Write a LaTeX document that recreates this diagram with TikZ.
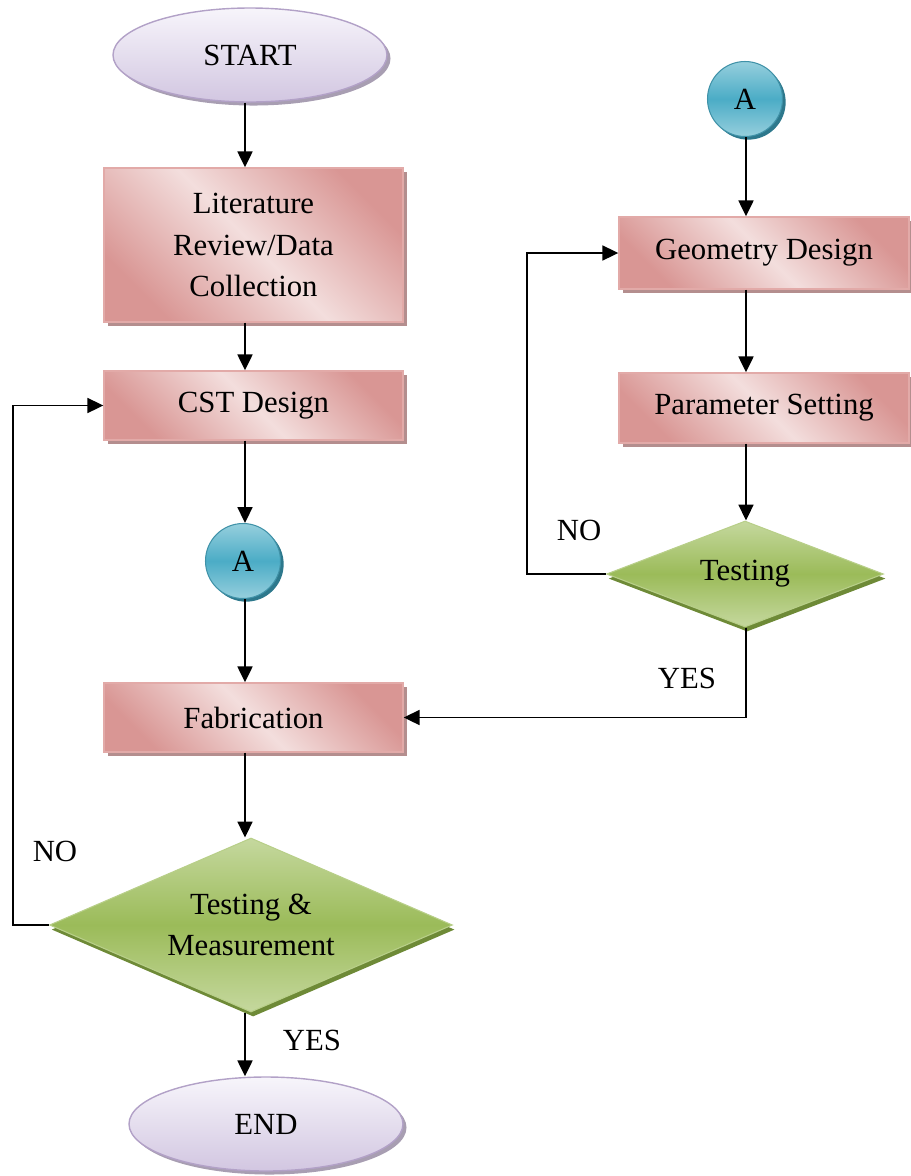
\documentclass[tikz,border=0pt]{standalone}
\usepackage{fontspec}
\setmainfont{Liberation Serif}
\usepackage{xcolor}
\usepackage{tikz}
\usetikzlibrary{shapes.geometric,arrows.meta,shadows}
\definecolor{boxlight}{RGB}{243,222,221}
\definecolor{boxdark}{RGB}{217,150,148}
\definecolor{boxline}{RGB}{226,170,168}
\definecolor{boxshade}{RGB}{180,142,142}
\definecolor{termtop}{RGB}{247,245,251}
\definecolor{termbot}{RGB}{210,198,225}
\definecolor{termline}{RGB}{178,161,199}
\definecolor{termshade}{RGB}{168,158,178}
\definecolor{conlight}{RGB}{150,207,221}
\definecolor{conmid}{RGB}{75,172,198}
\definecolor{conshade}{RGB}{45,120,140}
\definecolor{declight}{RGB}{197,216,158}
\definecolor{decmid}{RGB}{155,187,89}
\definecolor{decshade}{RGB}{110,138,55}

\begin{document}
\begin{tikzpicture}[
  every node/.style={font=\fontsize{17.5}{23.5}\selectfont},
  process/.style={rectangle, draw=boxline, line width=0.8pt,
    top color=boxdark, bottom color=boxdark, middle color=boxlight,
    shading angle=-45, align=center, inner sep=0pt,
    drop shadow={opacity=1, fill=boxshade, shadow xshift=2.2pt, shadow yshift=-2.2pt}},
  terminal/.style={ellipse, draw=termline, line width=0.8pt,
    top color=termtop, bottom color=termbot,
    minimum width=5.48cm, minimum height=1.88cm,
    drop shadow={opacity=1, fill=termshade, shadow xshift=2pt, shadow yshift=-2pt}},
  connector/.style={circle, draw=conmid!85!black, line width=0.6pt,
    top color=conlight, bottom color=conlight, middle color=conmid,
    minimum size=1.5cm, inner sep=0pt,
    drop shadow={opacity=1, fill=conshade, shadow xshift=1.8pt, shadow yshift=-1.8pt}},
  decision/.style={diamond, draw=declight!70!decmid, line width=0.6pt,
    top color=declight, bottom color=declight, middle color=decmid,
    align=center, inner sep=0pt,
    drop shadow={opacity=1, fill=decshade, shadow xshift=1.2pt, shadow yshift=-2.6pt}},
  arr/.style={-{Triangle[length=9pt,width=8.5pt]}, line width=1.1pt},
  backline/.style={arr, line width=0.9pt}
]
  \useasboundingbox (0,0) rectangle (18.22,-23.52);

  % column axes and return lines
  \coordinate (axL) at (4.90,0);
  \coordinate (axR) at (14.92,0);
  \coordinate (fbL) at (0.26,0);
  \coordinate (fbR) at (10.54,0);

  % left column
  \node[terminal] (start) at (5.00,-1.10) {START};
  \node[process, minimum width=5.98cm, minimum height=3.08cm] (lit) at (5.07,-4.90)
    {Literature\\Review/Data\\Collection};
  \node[process, minimum width=5.98cm, minimum height=1.38cm] (cst) at (5.07,-8.11)
    {CST Design};
  \node[connector] (conA1) at (4.86,-11.22) {A};
  \node[process, minimum width=5.98cm, minimum height=1.38cm] (fab) at (5.07,-14.35)
    {Fabrication};
  \node[decision, aspect=2.4, minimum width=8.06cm, minimum height=3.48cm] (testM) at (5.02,-18.50)
    {Testing \&\\Measurement};
  \node[terminal] (end) at (5.32,-22.48) {END};

  % right column
  \node[connector] (conA2) at (14.90,-1.98) {A};
  \node[process, minimum width=5.80cm, minimum height=1.44cm] (geo) at (15.28,-5.06)
    {Geometry Design};
  \node[process, minimum width=5.80cm, minimum height=1.40cm] (param) at (15.28,-8.16)
    {Parameter Setting};
  \node[decision, aspect=2.8, minimum width=5.54cm, minimum height=2.12cm] (test) at (14.90,-11.48)
    {Testing};

  % labels
  \node (no1) at (1.10,-17.02) {NO};
  \node (yes1) at (6.24,-20.80) {YES};
  \node (no2) at (11.58,-10.60) {NO};
  \node (yes2) at (13.74,-13.56) {YES};

  % flow
  \draw[arr] (start.south -| axL) -- (lit.north -| axL);
  \draw[arr] (lit.south -| axL) -- (cst.north -| axL);
  \draw[arr] (cst.south -| axL) -- (conA1.north -| axL);
  \draw[arr] (conA1.south -| axL) -- (fab.north -| axL);
  \draw[arr] (fab.south -| axL) -- (testM.north -| axL);
  \draw[arr] (testM.south -| axL) -- (end.north -| axL);

  \draw[arr] (conA2.south -| axR) -- (geo.north -| axR);
  \draw[arr] (geo.south -| axR) -- (param.north -| axR);
  \draw[arr] (param.south -| axR) -- (test.north -| axR);

  % feedback
  \draw[backline] (testM.west) -- (testM.west -| fbL) |- (cst.west);
  \draw[backline] (test.west) -- (test.west -| fbR) |- (geo.west);
  \draw[backline] (test.south -| axR) |- (fab.east);
\end{tikzpicture}
\end{document}
